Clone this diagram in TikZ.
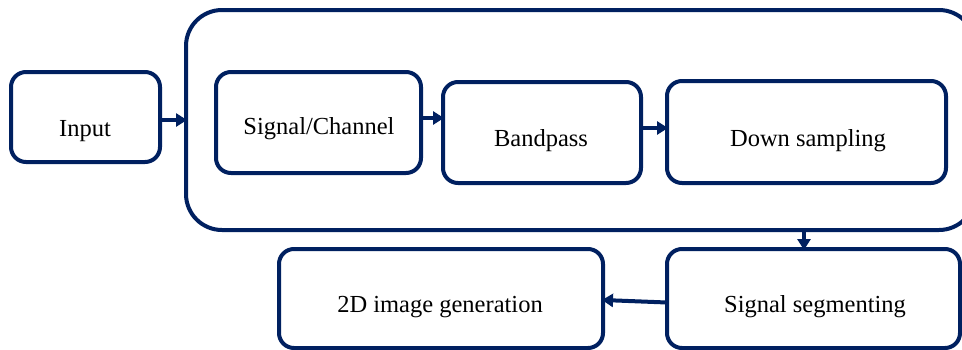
\documentclass[tikz,border=0pt]{standalone}
\usepackage{fontspec}
\setmainfont{Liberation Serif}
\usetikzlibrary{arrows.meta}
\definecolor{navy}{HTML}{002060}
\tikzset{
  box/.style={draw=navy, line width=4pt, rounded corners=15pt, rectangle, outer sep=0pt, inner sep=0pt, fill=white},
  bigbox/.style={box, rounded corners=36pt},
  txt/.style={font=\fontsize{24.5}{29}\selectfont, text=black, inner sep=0pt, anchor=base},
  arr/.style={draw=navy, line width=4pt, -{Triangle[length=11pt,width=13pt]}, shorten >=-1pt}
}
\begin{document}
\begin{tikzpicture}[x=1pt,y=-1pt]
\useasboundingbox (0,0) rectangle (962,349);
\clip (0,0) rectangle (962,349);
% boxes
\node[bigbox, minimum width=789pt, minimum height=220pt] (big) at (580.5,120) {};
\node[box, minimum width=149pt, minimum height=90pt] (input) at (85.5,117) {};
\node[box, minimum width=205pt, minimum height=101pt] (sc) at (318.5,122.5) {};
\node[box, minimum width=198pt, minimum height=101pt] (bp) at (542,132.5) {};
\node[box, minimum width=279pt, minimum height=102pt] (ds) at (806.5,132) {};
\node[box, minimum width=293pt, minimum height=99pt] (seg) at (813.5,298.5) {};
\node[box, minimum width=324pt, minimum height=99pt] (img) at (441,298.5) {};
% texts
\node[txt] (tinput) at (85,136) {Input};
\node[txt] (tsc) at (319,134) {Signal/Channel};
\node[txt] (tbp) at (541,146) {Bandpass};
\node[txt] (tds) at (808,146) {Down sampling};
\node[txt] (tseg) at (815,312) {Signal segmenting};
\node[txt] (timg) at (440,312) {2D image generation};
% arrows
\draw[arr] ([yshift=-3pt]input.east) -- ([yshift=-3pt]input.east -| big.west);
\draw[arr] ([yshift=4.5pt]sc.east) -- ([yshift=4.5pt]sc.east -| bp.west);
\draw[arr] ([yshift=4.5pt]bp.east) -- ([yshift=4.5pt]bp.east -| ds.west);
\draw[arr] ([xshift=-9.5pt]seg.north |- big.south) -- ([xshift=-9.5pt]seg.north);
\draw[arr] ([yshift=-4pt]seg.west) -- ([yshift=-1.5pt]img.east);
\end{tikzpicture}
\end{document}
